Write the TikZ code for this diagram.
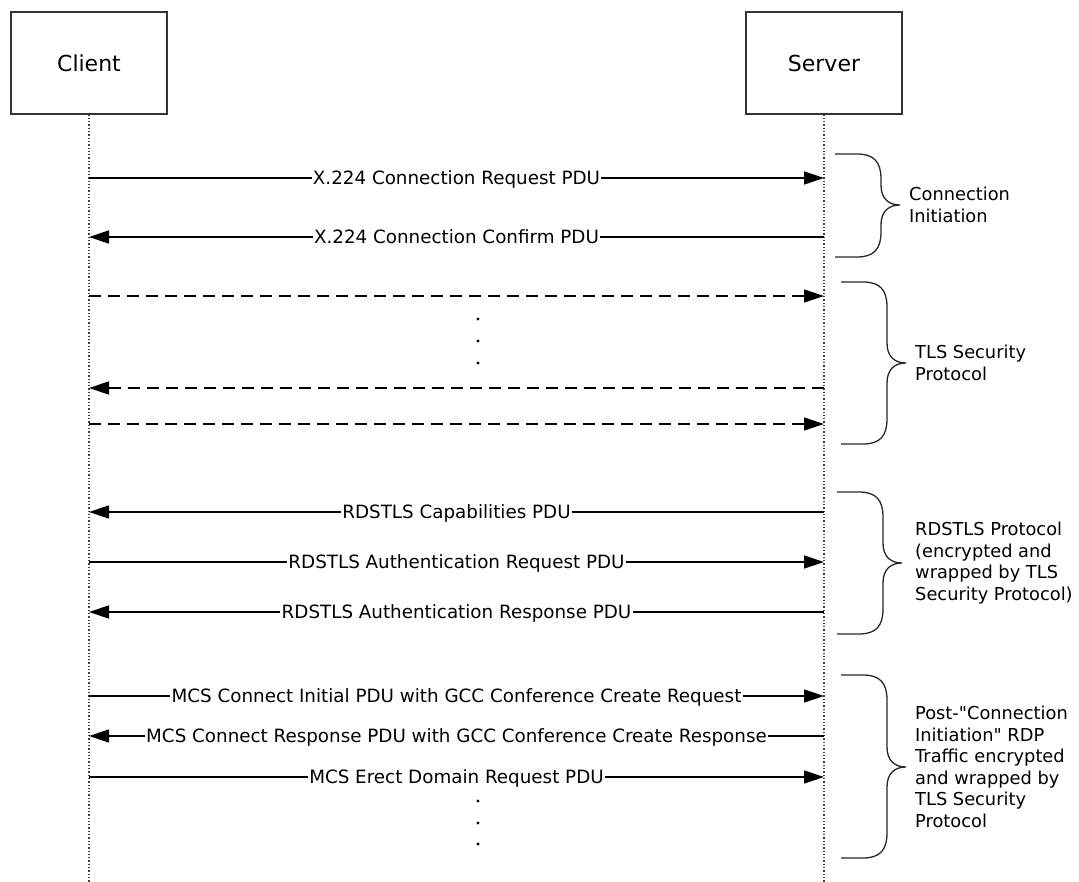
\documentclass[tikz,border=0pt]{standalone}
\usepackage{fontspec}
\setmainfont{DejaVu Sans}
\usetikzlibrary{arrows.meta,positioning}

\begin{document}
\begin{tikzpicture}[x=1pt,y=-1pt,
  actor/.style={draw=black!80,line width=1.2pt,minimum width=156pt,minimum height=102pt,inner sep=0pt,font=\fontsize{22}{26}\selectfont},
  life/.style={line width=1.3pt,dotted,black!75},
  msg/.style={line width=1.4pt,-{Triangle[length=20pt,width=13pt]}},
  dashmsg/.style={msg,dash pattern=on 12pt off 7pt},
  lbl/.style={midway,fill=white,inner sep=1.2pt,text height=13.4pt,text depth=0pt,font=\fontsize{18.3}{22}\selectfont},
  note/.style={anchor=west,align=left,inner sep=0pt,font=\fontsize{17.8}{21.5}\selectfont},
  bracepath/.style={line width=1.3pt,black!85}]
\useasboundingbox (0,0) rectangle (1079,882);

\node[actor] (client) at (89,63) {Client};
\node[actor] (server) at (824,63) {Server};
\coordinate (cend) at (client |- 0,882);
\coordinate (send) at (server |- 0,882);
\draw[life] (client) -- (cend);
\draw[life] (server) -- (send);

\foreach \n/\y in {1/178,2/237,3/296,4/388,5/424,6/512,7/562,8/612,9/696,10/736,11/777}{
  \coordinate (c\n) at (client |- 0,\y);
  \coordinate (s\n) at (server |- 0,\y);
}

\draw[msg] (c1) -- node[lbl] {X.224 Connection Request PDU} (s1);
\draw[msg] (s2) -- node[lbl] {X.224 Connection Confirm PDU} (c2);
\draw[dashmsg] (c3) -- (s3);
\draw[dashmsg] (s4) -- (c4);
\draw[dashmsg] (c5) -- (s5);
\draw[msg] (s6) -- node[lbl] {RDSTLS Capabilities PDU} (c6);
\draw[msg] (c7) -- node[lbl] {RDSTLS Authentication Request PDU} (s7);
\draw[msg] (s8) -- node[lbl] {RDSTLS Authentication Response PDU} (c8);
\draw[msg] (c9) -- node[lbl] {MCS Connect Initial PDU with GCC Conference Create Request} (s9);
\draw[msg] (s10) -- node[lbl] {MCS Connect Response PDU with GCC Conference Create Response} (c10);
\draw[msg] (c11) -- node[lbl] {MCS Erect Domain Request PDU} (s11);

% ellipsis dots
\foreach \y in {319,341,363,801,823,844}
  \fill (478,\y) circle[radius=1.6pt];

% braces on the right
\foreach \x/\a/\m/\b in {835/154/205/257,841/282/363/444,837/492/563/634,841/675/767/858}
  \draw[bracepath] (\x,\a) -- (\x+22,\a)
    .. controls (\x+39,\a) and (\x+46,\a+8) .. (\x+46,\a+25)
    -- (\x+46,\m-20)
    .. controls (\x+46,\m-6) and (\x+54,\m) .. (\x+65,\m)
    .. controls (\x+54,\m) and (\x+46,\m+6) .. (\x+46,\m+20)
    -- (\x+46,\b-25)
    .. controls (\x+46,\b-8) and (\x+39,\b) .. (\x+22,\b) -- (\x,\b);

\node[note] (init) at (909,205) {Connection\\Initiation};
\node[note] (tls) at (915,363) {TLS Security\\Protocol};
\node[note] (rdstls) at (915,563) {RDSTLS Protocol\\(encrypted and\\wrapped by TLS\\Security Protocol)};
\node[note] (post) at (915,767) {Post-\textquotedbl Connection\\Initiation\textquotedbl{} RDP\\Traffic encrypted\\and wrapped by\\TLS Security\\Protocol};
\end{tikzpicture}
\end{document}
